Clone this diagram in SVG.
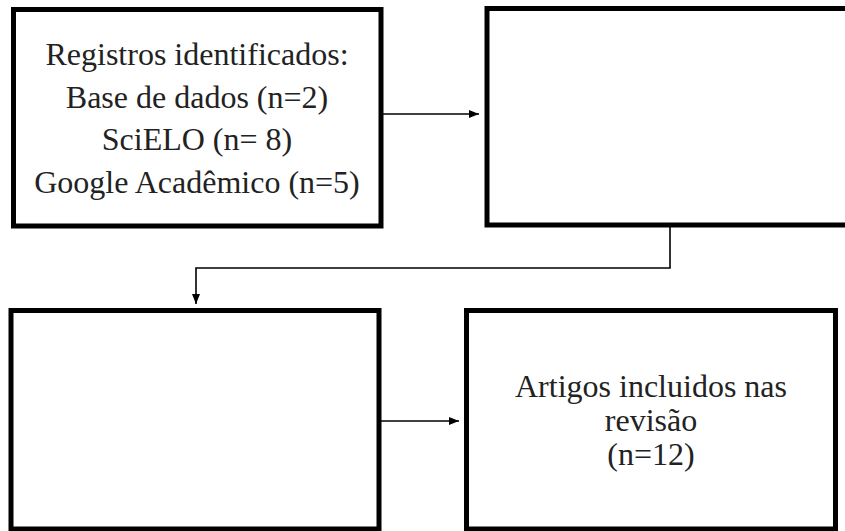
<svg xmlns="http://www.w3.org/2000/svg" width="845" height="531" viewBox="0 0 845 531">
<style>
.box{fill:#fff;stroke:#000;stroke-width:5}
.t{font-family:"Liberation Serif","Times New Roman",serif;font-size:32px;fill:#222;text-anchor:middle}
.c{fill:none;stroke:#000;stroke-width:1.6}
</style>
<defs>
<marker id="ah" viewBox="0 0 10 8" refX="10" refY="4" markerWidth="10" markerHeight="8" markerUnits="userSpaceOnUse" orient="auto">
<path d="M0,0 L10,4 L0,8 Z" fill="#000"/>
</marker>
</defs>
<rect width="845" height="531" fill="#fff"/>
<g id="connectors">
<line class="c" x1="383" y1="114" x2="479" y2="114" marker-end="url(#ah)"/>
<polyline class="c" points="670,227 670,268 196,268 196,304" marker-end="url(#ah)"/>
<line class="c" x1="381" y1="421" x2="459" y2="421" marker-end="url(#ah)"/>
</g>
<g id="n1">
<rect class="box" x="13.5" y="9.5" width="367.5" height="216.5"/>
<text class="t" x="197" y="65">Registros identificados:</text>
<text class="t" x="197" y="108">Base de dados (n=2)</text>
<text class="t" x="197" y="150">SciELO (n= 8)</text>
<text class="t" x="197" y="193">Google Acadêmico (n=5)</text>
</g>
<g id="n2">
<rect class="box" x="487" y="8.5" width="365" height="216.5"/>
</g>
<g id="n3">
<rect class="box" x="11" y="310.5" width="368" height="218.5"/>
</g>
<g id="n4">
<rect class="box" x="466.5" y="310.5" width="369" height="218.5"/>
<text class="t" x="651" y="397">Artigos incluidos nas</text>
<text class="t" x="651" y="431">revisão</text>
<text class="t" x="651" y="465">(n=12)</text>
</g>
</svg>
